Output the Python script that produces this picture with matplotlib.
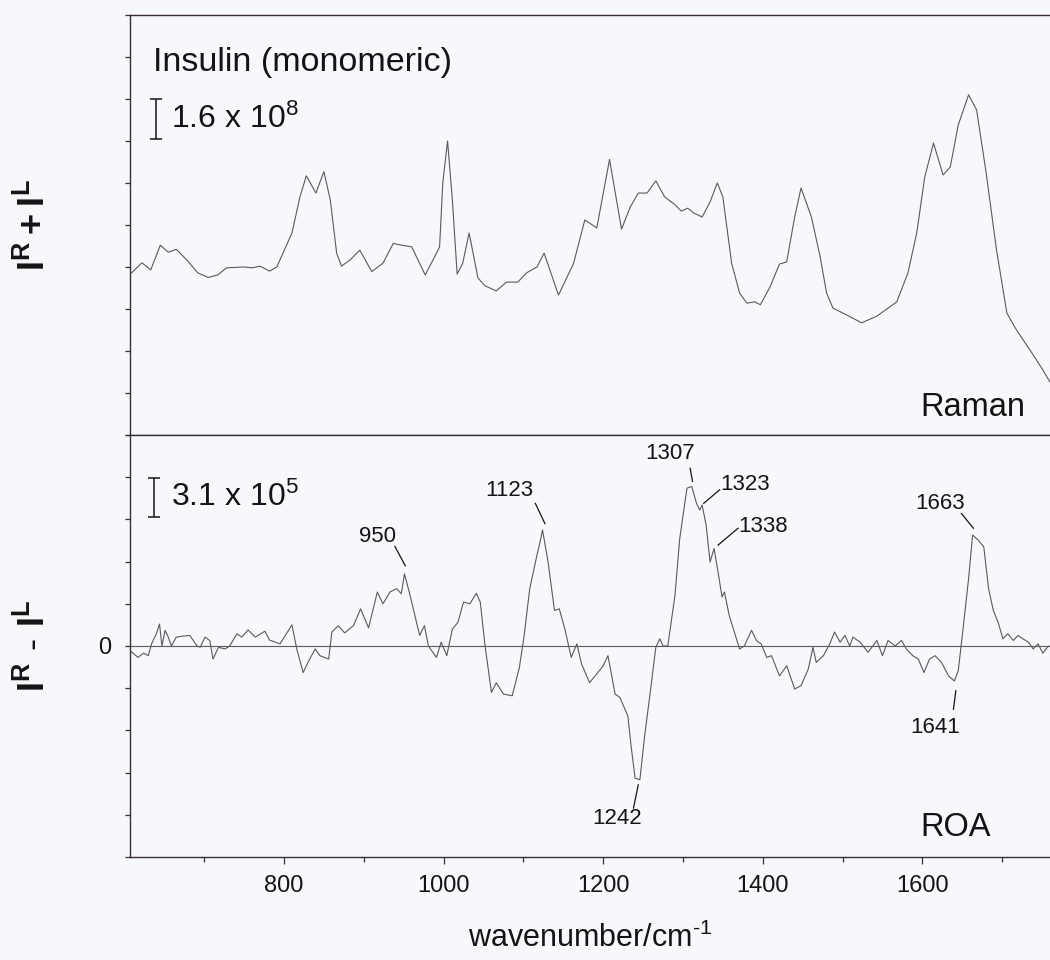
import matplotlib
matplotlib.use('Agg')
import matplotlib.pyplot as plt
from matplotlib.ticker import MultipleLocator, FixedLocator

plt.rcParams['font.family'] = ['Liberation Sans', 'DejaVu Sans']
plt.rcParams['mathtext.fontset'] = 'custom'
plt.rcParams['mathtext.rm'] = 'Liberation Sans'
plt.rcParams['mathtext.bf'] = 'Liberation Sans:bold'
plt.rcParams['mathtext.default'] = 'regular'

# Raman spectrum (I^R + I^L), arbitrary units
raman_x = [609, 622, 633, 645, 655, 665, 678, 692, 705, 717,
           728, 749, 760, 770, 782, 791, 810, 820, 828, 840,
           850, 858, 866, 872, 883, 895, 910, 924, 937, 947,
           960, 977, 989, 995, 999, 1005, 1011, 1017, 1024, 1032,
           1037, 1043, 1052, 1066, 1079, 1093, 1104, 1117, 1126, 1144,
           1163, 1177, 1192, 1208, 1223, 1234, 1244, 1255, 1266, 1277,
           1290, 1298, 1306, 1313, 1324, 1334, 1343, 1350, 1361, 1371,
           1380, 1390, 1397, 1409, 1421, 1430, 1440, 1448, 1461, 1472,
           1480, 1488, 1505, 1524, 1543, 1568, 1582, 1593, 1603, 1614,
           1626, 1635, 1645, 1658, 1668, 1680, 1693, 1706, 1718, 1735,
           1751, 1760]
raman_y = [3.86, 4.10, 3.93, 4.52, 4.35, 4.42, 4.17, 3.86, 3.75, 3.81,
           3.98, 4.0, 3.98, 4.02, 3.90, 4.0, 4.81, 5.67, 6.17, 5.76,
           6.27, 5.60, 4.33, 4.02, 4.17, 4.40, 3.89, 4.09, 4.56, 4.52,
           4.48, 3.81, 4.25, 4.48, 6.0, 7.0, 5.6, 3.83, 4.09, 4.81,
           4.33, 3.74, 3.55, 3.43, 3.64, 3.64, 3.86, 4.0, 4.33, 3.33,
           4.09, 5.12, 4.93, 6.56, 4.90, 5.43, 5.76, 5.76, 6.05, 5.67,
           5.48, 5.33, 5.40, 5.29, 5.19, 5.55, 6.0, 5.67, 4.09, 3.38,
           3.14, 3.17, 3.10, 3.52, 4.07, 4.12, 5.19, 5.88, 5.19, 4.24,
           3.38, 3.02, 2.86, 2.67, 2.83, 3.17, 3.86, 4.81, 6.14, 6.95,
           6.19, 6.38, 7.38, 8.10, 7.74, 6.24, 4.40, 2.90, 2.50, 2.02,
           1.55, 1.26]

# ROA spectrum (I^R - I^L)
roa_x = [607, 617, 624, 630, 634, 640, 644, 647, 651, 655,
         659, 665, 672, 682, 691, 695, 701, 707, 711, 718,
         726, 732, 741, 747, 755, 764, 776, 782, 795, 810,
         816, 824, 830, 839, 845, 856, 860, 868, 876, 887,
         896, 906, 917, 924, 933, 941, 947, 951, 958, 964,
         970, 976, 981, 991, 997, 1004, 1011, 1018, 1025, 1033,
         1041, 1046, 1052, 1060, 1066, 1075, 1086, 1095, 1101, 1108,
         1117, 1121, 1124, 1131, 1139, 1145, 1152, 1160, 1167, 1173,
         1183, 1200, 1206, 1215, 1221, 1231, 1235, 1240, 1246, 1252,
         1259, 1266, 1271, 1275, 1281, 1290, 1296, 1305, 1311, 1317,
         1321, 1324, 1329, 1334, 1339, 1344, 1349, 1352, 1358, 1371,
         1377, 1386, 1392, 1398, 1405, 1411, 1421, 1430, 1440, 1448,
         1457, 1463, 1467, 1476, 1484, 1490, 1497, 1503, 1509, 1513,
         1522, 1532, 1543, 1550, 1557, 1566, 1574, 1580, 1588, 1595,
         1602, 1609, 1616, 1624, 1633, 1640, 1645, 1651, 1658, 1663,
         1670, 1677, 1683, 1689, 1695, 1701, 1707, 1714, 1720, 1726,
         1733, 1739, 1745, 1751, 1758]
roa_y = [-0.11, -0.27, -0.17, -0.23, 0.05, 0.29, 0.52, 0.0, 0.37, 0.21,
         0.0, 0.21, 0.23, 0.25, 0.0, -0.03, 0.21, 0.13, -0.31, -0.03,
         -0.07, 0.0, 0.29, 0.21, 0.38, 0.21, 0.35, 0.14, 0.05, 0.50,
         -0.07, -0.63, -0.39, -0.07, -0.23, -0.31, 0.33, 0.48, 0.31, 0.48,
         0.88, 0.43, 1.28, 1.0, 1.28, 1.36, 1.24, 1.71, 1.20, 0.72,
         0.25, 0.48, 0.0, -0.27, 0.09, -0.23, 0.40, 0.56, 1.04, 1.0,
         1.25, 1.04, 0.0, -1.10, -0.87, -1.14, -1.18, -0.51, 0.25, 1.36,
         2.15, 2.47, 2.75, 1.99, 0.84, 0.88, 0.40, -0.27, 0.05, -0.43,
         -0.87, -0.47, -0.23, -1.14, -1.22, -1.66, -2.37, -3.13, -3.17, -2.13,
         -1.10, -0.03, 0.17, 0.0, 0.0, 1.20, 2.55, 3.74, 3.78, 3.38,
         3.22, 3.34, 2.87, 1.99, 2.31, 1.75, 1.16, 1.28, 0.72, -0.07,
         0.0, 0.37, 0.13, 0.05, -0.27, -0.23, -0.71, -0.47, -1.02, -0.94,
         -0.55, -0.03, -0.39, -0.23, 0.05, 0.33, 0.09, 0.25, 0.0, 0.21,
         0.09, -0.15, 0.13, -0.23, 0.13, 0.0, 0.13, -0.07, -0.23, -0.31,
         -0.63, -0.31, -0.23, -0.39, -0.71, -0.83, -0.59, 0.40, 1.60, 2.63,
         2.51, 2.35, 1.36, 0.84, 0.56, 0.17, 0.29, 0.13, 0.25, 0.17,
         0.09, -0.07, 0.05, -0.17, 0.0]

# band labels on the ROA trace: label, text position, leader line (start, end)
band_labels = ['950', '1123', '1307', '1323', '1338', '1663', '1641', '1242']
band_text_x = [917, 1083, 1284, 1378, 1401, 1622, 1616, 1217]
band_text_y = [2.60, 3.69, 4.57, 3.82, 2.83, 3.38, -1.94, -4.08]
band_line_x = [(939, 952), (1115, 1127), (1309, 1312), (1346, 1326),
               (1369, 1344), (1649, 1664), (1639, 1642), (1238, 1244)]
band_line_y = [(2.36, 1.90), (3.38, 2.90), (4.21, 3.90), (3.70, 3.38),
               (2.79, 2.39), (3.14, 2.79), (-1.50, -1.06), (-3.84, -3.29)]

bg = '#f6f8fb'
ink = '#141414'
trace = '#5a5a5a'
spine_c = '#3a2d3a'

fig = plt.figure(figsize=(10.5, 9.6), dpi=100, facecolor=bg)
ax1 = fig.add_axes([0.1238, 0.5469, 0.8762, 0.4375], facecolor=bg)
ax2 = fig.add_axes([0.1238, 0.1073, 0.8762, 0.4396], facecolor=bg)

for ax in (ax1, ax2):
    ax.set_xlim(607, 1760)
    ax.spines['right'].set_visible(False)
    for s in ('left', 'top', 'bottom'):
        ax.spines[s].set_color(spine_c)
        ax.spines[s].set_linewidth(1.0)

# Raman panel
ax1.plot(raman_x, raman_y, color=trace, lw=0.8)
ax1.set_ylim(0, 10)
ax1.yaxis.set_major_locator(MultipleLocator(1))
ax1.xaxis.set_major_locator(MultipleLocator(100))
ax1.tick_params(axis='y', direction='out', length=3.6, width=0.9,
                color=spine_c, labelleft=False)
ax1.tick_params(axis='x', direction='out', length=3.6, width=0.9,
                color=spine_c, labelbottom=False, top=False)
ax1.set_ylabel(r'$\mathbf{I^R + I^L}$', fontsize=26, color=ink)
ax1.yaxis.set_label_coords(-0.084, 0.5)

ax1.text(636, 8.86, 'Insulin (monomeric)', fontsize=24.5, color=ink,
         ha='left', va='center')
ax1.errorbar(640, 7.52, yerr=0.47, color=ink, lw=1.1, capsize=4.5,
             capthick=1.1)
ax1.text(659, 7.52, r'1.6 x 10$^{8}$', fontsize=23, color=ink,
         ha='left', va='center')
ax1.text(1597, 0.65, 'Raman', fontsize=23.5, color=ink, ha='left', va='center')

# ROA panel
ax2.axhline(0, color=trace, lw=0.8)
ax2.plot(roa_x, roa_y, color=trace, lw=0.8)
ax2.set_ylim(-5, 5)
ax2.yaxis.set_major_locator(MultipleLocator(1))
ax2.yaxis.set_major_formatter(plt.FuncFormatter(lambda v, p: '0' if abs(v) < 1e-9 else ''))
ax2.tick_params(axis='y', direction='out', length=3.6, width=0.9,
                color=spine_c, labelsize=17, labelcolor=ink, pad=10)
ax2.xaxis.set_major_locator(FixedLocator([800, 1000, 1200, 1400, 1600]))
ax2.xaxis.set_minor_locator(MultipleLocator(100))
ax2.tick_params(axis='x', which='major', direction='out', length=5,
                width=0.9, color=spine_c, labelsize=17, labelcolor=ink, pad=8)
ax2.tick_params(axis='x', which='minor', direction='out', length=3.6,
                width=0.9, color=spine_c)
ax2.set_ylabel(r'$\mathbf{I^R \ \text{-}\ I^L}$', fontsize=26, color=ink)
ax2.yaxis.set_label_coords(-0.084, 0.5)
ax2.set_xlabel(r'wavenumber/cm$^{\text{-}1}$', fontsize=22, color=ink, va='top')
ax2.xaxis.set_label_coords(0.5, -0.155)

ax2.errorbar(637, 3.52, yerr=0.47, color=ink, lw=1.1, capsize=4.5,
             capthick=1.1)
ax2.text(659, 3.52, r'3.1 x 10$^{5}$', fontsize=23, color=ink,
         ha='left', va='center')
ax2.text(1597, -4.31, 'ROA', fontsize=23.5, color=ink, ha='left', va='center')

for lab, tx, ty, lx, ly in zip(band_labels, band_text_x, band_text_y,
                               band_line_x, band_line_y):
    ax2.text(tx, ty, lab, fontsize=16, color=ink, ha='center', va='center')
    ax2.plot(lx, ly, color=ink, lw=0.9)

fig.savefig('out.png', dpi=100, facecolor=bg)
